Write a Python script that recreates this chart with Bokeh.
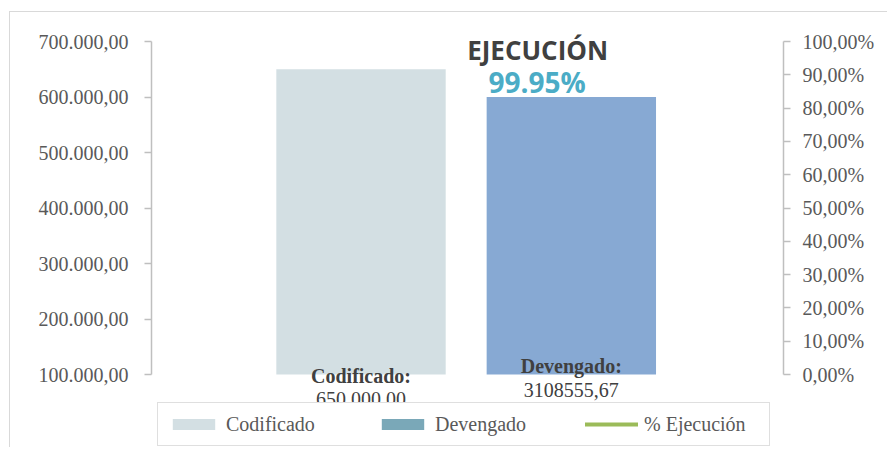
from bokeh.plotting import figure
from bokeh.models import (Range1d, FactorRange, LinearAxis, FixedTicker, Legend,
                          LegendItem, Label, ColumnDataSource, CustomJSTickFormatter)
from bokeh.transform import dodge
from bokeh.embed import file_html
from bokeh.resources import INLINE

# ---------------- data ----------------
category = ["Presupuesto"]
series_names = ["Codificado", "Devengado", "% Ejecución"]
codificado = [650000.00]
devengado = [600000.00]
codificado_label = "650.000,00"
devengado_label = "3108555,67"
ejecucion = [0.9995]
ejecucion_label = "99.95%"
left_ticks = [100000, 200000, 300000, 400000, 500000, 600000, 700000]
right_ticks = [0.0, 0.1, 0.2, 0.3, 0.4, 0.5, 0.6, 0.7, 0.8, 0.9, 1.0]

# ---------------- style / geometry (pixels) ----------------
SERIF = "Liberation Serif"
SANS = "Open Sans"
AXIS_COLOR = "#bfbfbf"
LABEL_COLOR = "#595959"
DARK = "#404040"
BAR_OFFSETS = (-0.1685, 0.1643)
BAR_WIDTH = 0.268
W, H = 878, 436
PAD_ABOVE = 29      # canvas px above the top tick
AXIS_PX = 333       # px between lowest and highest tick
PAD_BELOW = H - PAD_ABOVE - AXIS_PX

lo, hi = left_ticks[0], left_ticks[-1]
per_px = (hi - lo) / AXIS_PX
rlo, rhi = right_ticks[0], right_ticks[-1]
rper_px = (rhi - rlo) / AXIS_PX

p = figure(width=W, height=H,
           x_range=FactorRange(factors=category, range_padding=0),
           y_range=Range1d(lo - PAD_BELOW * per_px, hi + PAD_ABOVE * per_px),
           output_backend="svg", toolbar_location=None,
           x_axis_location=None,
           min_border_left=141, min_border_right=105,
           min_border_top=0, min_border_bottom=0)
p.styles = {"border-left": "1px solid #d9d9d9", "border-top": "1px solid #d9d9d9",
            "margin-left": "9px", "margin-top": "11px"}
p.outline_line_color = None
p.ygrid.visible = False
p.xgrid.visible = False
p.background_fill_color = "white"
p.border_fill_color = "white"

p.extra_y_ranges = {"pct": Range1d(rlo - PAD_BELOW * rper_px, rhi + PAD_ABOVE * rper_px)}

lax = p.yaxis[0]
lax.ticker = FixedTicker(ticks=left_ticks)
lax.bounds = (lo, hi)
lax.formatter = CustomJSTickFormatter(code="""
const s = tick.toFixed(2).replace('.', ',');
return s.replace(/\\B(?=(\\d{3})+(?!\\d))/g, '.');
""")
rax = LinearAxis(y_range_name="pct", ticker=FixedTicker(ticks=right_ticks), bounds=(rlo, rhi),
                 formatter=CustomJSTickFormatter(code="return (tick*100).toFixed(2).replace('.', ',') + '%';"))
p.add_layout(rax, "right")

for ax, standoff in ((lax, 16), (rax, 12)):
    ax.axis_line_color = AXIS_COLOR
    ax.axis_line_width = 1.5
    ax.major_tick_line_color = AXIS_COLOR
    ax.major_tick_line_width = 1.5
    ax.major_tick_out = 7
    ax.major_tick_in = 0
    ax.minor_tick_line_color = None
    ax.major_label_text_font = SERIF
    ax.major_label_text_font_size = "20px"
    ax.major_label_text_color = LABEL_COLOR
    ax.major_label_standoff = standoff

src = ColumnDataSource(dict(cat=category, cod=codificado, dev=devengado, pct=ejecucion))

r1 = p.vbar(x=dodge("cat", BAR_OFFSETS[0], range=p.x_range), top="cod", bottom=lo,
            width=BAR_WIDTH, source=src, fill_color="#d3dfe3", line_color=None)
r2 = p.vbar(x=dodge("cat", BAR_OFFSETS[1], range=p.x_range), top="dev", bottom=lo,
            width=BAR_WIDTH, source=src, fill_color="#87a9d3", line_color=None)
# legend swatch for Devengado (Excel legend shows a different tint); zero height, not visible
r2_leg = p.vbar(x=dodge("cat", BAR_OFFSETS[1], range=p.x_range), top="dev", bottom="dev",
                width=BAR_WIDTH, source=src, fill_color="#7aa8b8", line_color=None)
r3 = p.line(x="cat", y="pct", y_range_name="pct", source=src,
            line_color="#9bbb59", line_width=4, line_cap="round")

# data labels at base of bars
labels = [
    ("Codificado:", 0.5 + BAR_OFFSETS[0], -1, "bold"),
    (codificado_label, 0.5 + BAR_OFFSETS[0], -24, "normal"),
    ("Devengado:", 0.5 + BAR_OFFSETS[1], 9, "bold"),
    (devengado_label, 0.5 + BAR_OFFSETS[1], -15, "normal"),
]
for txt, x, yoff, style in labels:
    p.add_layout(Label(x=x, y=lo, y_offset=yoff, text=txt, text_align="center",
                       text_baseline="middle", text_font=SERIF, text_font_style=style,
                       text_font_size="20px", text_color=DARK))

# title
p.add_layout(Label(x=0.611, y=hi, y_offset=-8, text="EJECUCIÓN", text_align="center",
                   text_baseline="middle", text_font=SANS, text_font_style="bold",
                   text_font_size="26px", text_color=DARK))
p.add_layout(Label(x=0.610, y=hi, y_offset=-40, text=ejecucion_label, text_align="center",
                   text_baseline="middle", text_font=SANS, text_font_style="bold",
                   text_font_size="28px", text_color="#4bacc6"))

legend = Legend(items=[LegendItem(label=series_names[0], renderers=[r1]),
                       LegendItem(label=series_names[1], renderers=[r2_leg]),
                       LegendItem(label=series_names[2], renderers=[r3])],
                orientation="horizontal", location=(6, 2),
                glyph_width=53, glyph_height=14, label_standoff=6,
                spacing=34, padding=9, label_height=24, label_width=116, margin=0,
                label_text_font=SERIF, label_text_font_size="20px",
                label_text_color=LABEL_COLOR,
                border_line_color=AXIS_COLOR, border_line_width=1.5,
                background_fill_color="white", background_fill_alpha=1)
p.add_layout(legend, "center")

open("out.html", "w").write(file_html(p, INLINE))
